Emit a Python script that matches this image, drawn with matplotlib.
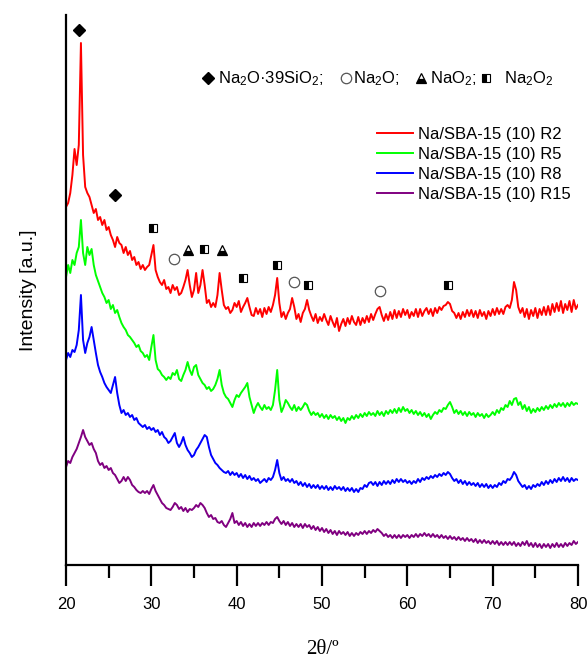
import numpy as np
import matplotlib
matplotlib.use("Agg")
import matplotlib.pyplot as plt

plt.rcParams['font.family'] = ['Liberation Sans', 'DejaVu Sans']
plt.rcParams['mathtext.fontset'] = 'custom'
plt.rcParams['mathtext.rm'] = 'Liberation Sans'
plt.rcParams['mathtext.it'] = 'Liberation Sans:italic'

# ---------------- data ----------------
two_theta = np.arange(20.0, 80.001, 0.25)

r2 = [358, 362, 372, 390, 416, 400, 420, 522, 410, 378, 372, 368, 360, 352, 356, 345, 348, 340, 345, 335,
      338, 330, 325, 318, 328, 322, 320, 312, 318, 310, 314, 305, 308, 300, 303, 296, 300, 295, 298, 300,
      310, 320, 295, 288, 283, 280, 285, 276, 278, 272, 280, 275, 278, 270, 272, 278, 285, 295, 280, 268,
      275, 292, 272, 280, 295, 280, 262, 265, 258, 262, 258, 270, 292, 275, 260, 256, 258, 252, 255, 262,
      258, 264, 253, 258, 262, 267, 258, 250, 249, 257, 251, 256, 248, 257, 251, 258, 253, 260, 270, 287,
      262, 248, 253, 246, 252, 256, 267, 258, 246, 251, 243, 252, 256, 265, 255, 249, 244, 251, 242, 248,
      244, 251, 245, 240, 249, 243, 238, 247, 234, 241, 246, 239, 247, 241, 249, 243, 240, 248, 240, 247,
      242, 249, 243, 251, 245, 251, 256, 258, 250, 244, 251, 245, 253, 246, 255, 247, 254, 248, 256, 250,
      255, 247, 253, 249, 256, 248, 256, 249, 254, 257, 251, 256, 249, 257, 252, 258, 255, 259, 260, 263,
      261, 254, 252, 247, 252, 246, 253, 248, 255, 249, 255, 248, 254, 247, 255, 249, 253, 246, 254, 249,
      256, 250, 257, 251, 256, 251, 258, 260, 257, 265, 283, 275, 258, 252, 257, 248, 256, 246, 255, 249,
      257, 247, 256, 250, 258, 250, 259, 250, 261, 253, 262, 254, 264, 252, 261, 255, 264, 253, 265, 256,
      260]

r5 = [288, 300, 292, 305, 300, 312, 318, 345, 312, 300, 318, 310, 316, 300, 290, 284, 278, 272, 268, 262,
      265, 256, 260, 252, 255, 248, 242, 238, 235, 230, 228, 225, 222, 218, 220, 214, 212, 208, 210, 205,
      218, 230, 205, 196, 194, 190, 188, 185, 188, 186, 192, 190, 195, 186, 184, 190, 195, 203, 195, 190,
      198, 200, 190, 186, 182, 180, 176, 178, 174, 176, 180, 186, 195, 180, 172, 168, 166, 162, 158, 165,
      170, 168, 172, 175, 178, 182, 168, 160, 152, 158, 162, 158, 155, 160, 156, 158, 155, 160, 175, 195,
      165, 153, 158, 165, 162, 158, 155, 160, 154, 158, 155, 158, 162, 160, 154, 150, 153, 150, 152, 148,
      151, 147, 150, 146, 150, 147, 149, 145, 148, 144, 147, 142, 147, 145, 149, 146, 150, 147, 151, 148,
      152, 149, 153, 150, 152, 149, 154, 150, 153, 149, 154, 151, 155, 152, 156, 152, 157, 153, 158, 154,
      156, 152, 155, 151, 154, 150, 153, 149, 152, 148, 151, 146, 150, 153, 151, 155, 153, 157, 156, 160,
      163, 158, 152, 155, 151, 154, 150, 153, 149, 153, 150, 152, 148, 152, 149, 151, 147, 151, 148, 150,
      153, 150, 155, 152, 157, 155, 160, 158, 164, 160, 166, 167, 160, 163, 156, 160, 154, 158, 152, 156,
      153, 157, 154, 158, 155, 159, 156, 160, 157, 161, 158, 162, 159, 162, 158, 162, 159, 163, 160, 162,
      161]

r8 = [205, 212, 208, 215, 213, 220, 235, 270, 225, 212, 222, 228, 238, 225, 212, 200, 193, 188, 182, 178,
      175, 172, 180, 188, 172, 160, 152, 155, 150, 152, 148, 150, 145, 147, 142, 140, 138, 140, 136, 138,
      135, 137, 133, 135, 130, 133, 128, 126, 122, 124, 128, 132, 122, 118, 122, 128, 120, 115, 112, 108,
      110, 115, 118, 122, 126, 130, 128, 118, 110, 106, 102, 100, 97, 95, 93, 92, 94, 90, 93, 90,
      92, 88, 91, 87, 90, 86, 89, 85, 87, 84, 86, 82, 84, 86, 83, 87, 85, 88, 95, 105,
      92, 85, 88, 84, 86, 83, 86, 82, 84, 80, 83, 79, 82, 78, 81, 77, 80, 77, 80, 76,
      79, 76, 79, 75, 78, 75, 79, 76, 78, 75, 78, 74, 77, 74, 77, 73, 76, 73, 77, 76,
      80, 78, 82, 83, 80, 83, 79, 83, 80, 84, 81, 84, 81, 85, 82, 86, 83, 86, 83, 85,
      82, 84, 81, 84, 82, 86, 83, 87, 85, 88, 86, 89, 87, 90, 88, 91, 89, 92, 90, 93,
      91, 87, 84, 86, 82, 85, 81, 84, 80, 83, 80, 82, 79, 82, 78, 81, 78, 81, 77, 80,
      77, 80, 78, 82, 80, 84, 82, 86, 85, 88, 93, 90, 84, 81, 78, 80, 76, 79, 76, 80,
      78, 81, 79, 83, 80, 84, 81, 85, 82, 86, 83, 87, 84, 88, 84, 87, 83, 87, 84, 86,
      85]

r15 = [98, 104, 102, 108, 112, 116, 122, 128, 135, 128, 124, 120, 122, 116, 112, 104, 100, 102, 97, 99,
       95, 97, 92, 90, 86, 82, 84, 88, 84, 88, 85, 80, 78, 75, 73, 72, 74, 72, 74, 71,
       76, 80, 74, 70, 66, 62, 60, 57, 56, 55, 58, 62, 60, 56, 58, 54, 57, 53, 56, 55,
       57, 60, 58, 62, 60, 57, 52, 48, 50, 46, 47, 43, 42, 44, 40, 38, 42, 46, 52, 42,
       44, 40, 43, 39, 42, 38, 41, 38, 42, 39, 42, 39, 42, 40, 43, 40, 43, 42, 46, 48,
       44, 41, 44, 40, 43, 39, 42, 38, 41, 38, 41, 37, 41, 38, 40, 36, 39, 35, 38, 34,
       37, 33, 36, 32, 35, 31, 34, 30, 34, 31, 33, 30, 33, 29, 32, 29, 32, 30, 33, 31,
       34, 31, 34, 32, 35, 33, 36, 34, 32, 29, 31, 28, 30, 27, 30, 27, 30, 27, 30, 28,
       30, 27, 30, 28, 31, 28, 31, 29, 32, 29, 31, 28, 31, 28, 30, 27, 30, 27, 29, 26,
       29, 26, 28, 25, 28, 25, 27, 24, 27, 24, 26, 23, 26, 22, 25, 22, 25, 22, 24, 21,
       24, 21, 24, 20, 23, 20, 23, 20, 23, 20, 23, 19, 22, 19, 23, 20, 24, 19, 22, 18,
       22, 18, 21, 17, 21, 18, 21, 17, 21, 18, 22, 18, 21, 18, 22, 19, 22, 20, 24, 21,
       23]

series_labels = ['Na/SBA-15 (10) R2', 'Na/SBA-15 (10) R5',
                 'Na/SBA-15 (10) R8', 'Na/SBA-15 (10) R15']
series_colors = ['#ff0000', '#00ff00', '#0000ff', '#800080']

# phase markers (2theta, height)
silicate_x = [21.56, 25.8]
silicate_y = [535, 370]
na2o_x = [32.7, 46.7, 56.8]
na2o_y = [306, 283, 274]
nao2_x = [34.3, 38.25]
nao2_y = [315, 315]
na2o2_x = [30.2, 36.2, 40.8, 44.7, 48.4, 64.8]
na2o2_y = [337, 316, 287, 300, 280, 280]

phase_labels = ['Na$_2$O\u00b739SiO$_2$;', 'Na$_2$O;', 'NaO$_2$;', 'Na$_2$O$_2$']

# ---------------- figure ----------------
fig = plt.figure(figsize=(5.88, 6.59), dpi=100)
ax = fig.add_axes([66/588, (659-565)/659, 512/588, 550/659])

for y, c, lab in zip([r2, r5, r8, r15], series_colors, series_labels):
    ax.plot(two_theta, y, color=c, lw=1.4, label=lab)

dia = dict(marker='D', ms=6, color='black', ls='none')
circ = dict(marker='o', ms=7.5, mfc='white', mec='#555555', mew=0.9, ls='none')
tri = dict(marker='^', ms=7.5, color='black', mfc='black', mfcalt='white',
           fillstyle='bottom', mec='black', mew=0.9, ls='none')
sq = dict(marker='s', ms=5.5, color='black', mfc='black', mfcalt='white',
          fillstyle='left', mec='black', mew=0.8, ls='none')

ax.plot(silicate_x, silicate_y, **dia)
ax.plot(na2o_x, na2o_y, **circ)
ax.plot(nao2_x, nao2_y, **tri)
ax.plot(na2o2_x, na2o2_y, **sq)

# phase key at top
key_mx = [36.64, 52.81, 61.6, 69.22]
key_tx = [37.8, 53.6, 62.7, 71.3]
key_y = 487
for st, mx, tx, lab in zip([dia, circ, tri, sq], key_mx, key_tx, phase_labels):
    ax.plot([mx], [key_y], clip_on=False, **st)
    ax.text(tx, key_y - 5, lab, fontsize=12, va='baseline', ha='left')

ax.set_xlim(20, 80)
ax.set_ylim(0, 550)
ax.set_xticks(np.arange(20, 81, 10))
ax.set_xticks(np.arange(25, 80, 10), minor=True)
ax.set_yticks([])
for s in ['top', 'right']:
    ax.spines[s].set_visible(False)
for s in ['left', 'bottom']:
    ax.spines[s].set_linewidth(1.6)
ax.tick_params(axis='x', which='major', direction='out', length=15, width=1.6,
               labelsize=12, pad=8)
ax.tick_params(axis='x', which='minor', direction='out', length=9, width=1.6)

ax.set_xlabel('2\u03b8/\u00ba', fontsize=15, family=['Liberation Serif', 'DejaVu Serif'], labelpad=20)
ax.set_ylabel('Intensity [a.u.]', fontsize=14, labelpad=21)

ax.legend(loc='upper left', bbox_to_anchor=(0.607, 0.797), frameon=False,
          fontsize=12, handlelength=2.2, handletextpad=0.3, labelspacing=0.3,
          borderpad=0, borderaxespad=0)

fig.savefig('out.png', dpi=100)
